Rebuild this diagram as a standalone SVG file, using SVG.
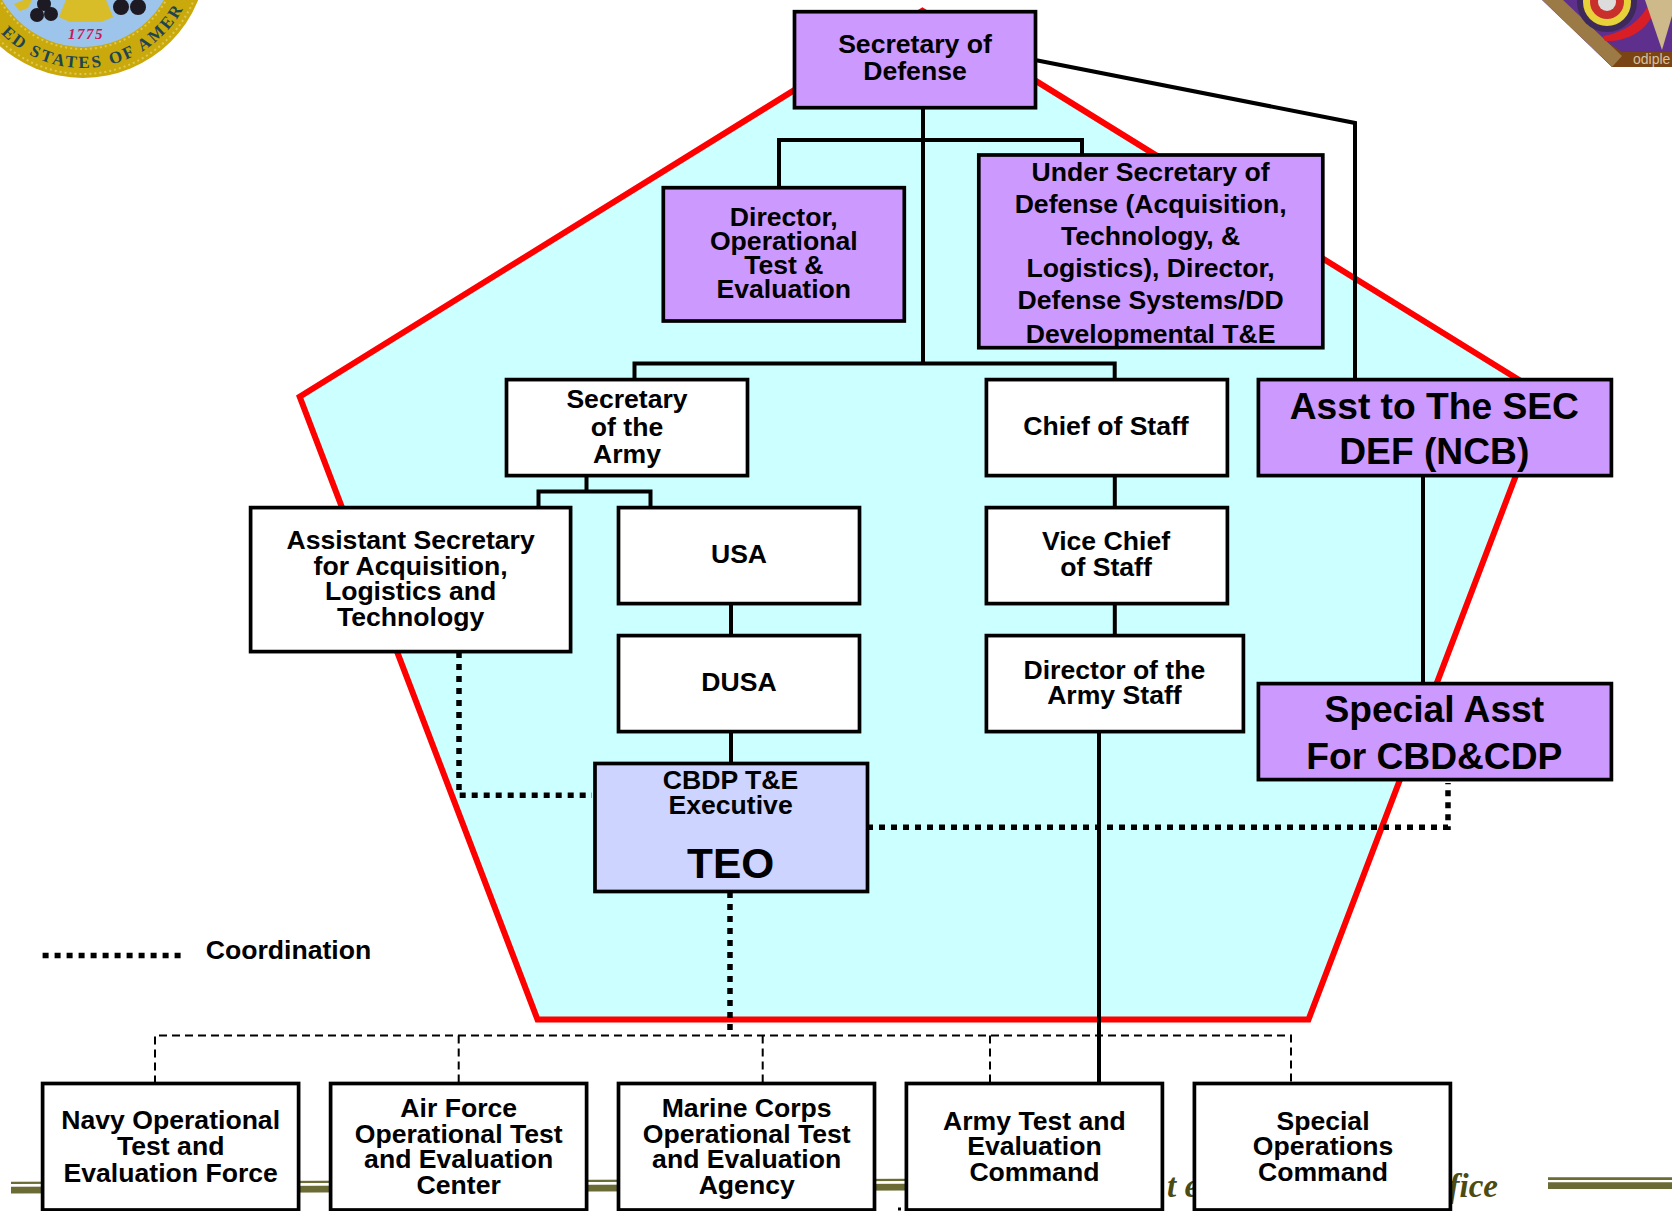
<svg xmlns="http://www.w3.org/2000/svg" width="1672" height="1211" viewBox="0 0 1672 1211">
<style>
text{font-family:"Liberation Sans",Arial,sans-serif;font-weight:bold;font-size:26.6px;text-anchor:middle;fill:#000}
.big{font-size:37.2px}
.teo{font-size:42.4px}
.foot{font-family:"Liberation Serif","Times New Roman",serif;font-style:italic;font-size:33px;fill:#4b4b12}
.box{stroke:#000;stroke-width:3.7}
.purple{fill:#cc99ff}
.white{fill:#fff}
.blue{fill:#ccd4ff}
.solid{fill:none;stroke:#000;stroke-width:4}
.dot{fill:none;stroke:#000;stroke-width:5.5;stroke-dasharray:6 6}
.dash{fill:none;stroke:#000;stroke-width:2;stroke-dasharray:8 5}
.bar{fill:#6b6b35}
</style>
<defs>
<path id="sealArc" d="M-31,-46 A114,114 0 0 0 197,-46"/>
<clipPath id="rightLogo"><polygon points="1542,0 1612,67 1672,67 1672,0"/></clipPath>
</defs>

<g id="seal-logo">
<circle cx="83" cy="-46" r="124" fill="#c9a90c"/>
<circle cx="83" cy="-46" r="120" fill="none" stroke="#e0c850" stroke-width="2" stroke-dasharray="2 3"/>
<circle cx="83" cy="-46" r="95" fill="none" stroke="#e0c850" stroke-width="2" stroke-dasharray="2 3"/>
<circle cx="83" cy="-46" r="93" fill="#9dc4ea"/>
<polygon points="66,0 106,0 113,17 101,22 70,22 59,17" fill="#d8bc28"/>
<path d="M14,4 L24,0 L32,0 L28,8 L20,11Z" fill="#d8bc28"/>
<circle cx="44" cy="4" r="7" fill="#1d1a24"/>
<circle cx="37" cy="15" r="7" fill="#1d1a24"/>
<circle cx="51" cy="14" r="7" fill="#1d1a24"/>
<circle cx="121" cy="7" r="8" fill="#1d1a24"/>
<circle cx="138" cy="7" r="8" fill="#1d1a24"/>
<text x="86" y="39" style="font-family:'Liberation Serif',serif;font-style:italic;font-size:15px;letter-spacing:1.5px;fill:#c4185c">1775</text>
<text style="font-family:'Liberation Serif',serif;font-size:17px;fill:#1d4450;letter-spacing:2.5px"><textPath href="#sealArc" startOffset="54.5%">ED STATES OF AMER</textPath></text>
</g>

<g id="right-logo">
<g clip-path="url(#rightLogo)">
<rect x="1540" y="0" width="132" height="68" fill="#5e2f8c"/>
<polygon points="1612,67 1672,67 1672,52 1622,52 1610,44 1594,50" fill="#7a4415"/>
<polygon points="1542,0 1612,67 1622,56 1563,0" fill="#9c7a45"/>
<path d="M1605,41 C1630,42 1650,28 1655,8 L1650,2 C1640,22 1625,32 1603,36Z" fill="#d91e26"/>
<circle cx="1607" cy="2" r="30" fill="#3e2a5a"/>
<circle cx="1607" cy="2" r="24" fill="#e7d23a"/>
<circle cx="1607" cy="2" r="17" fill="#c9302c"/>
<circle cx="1607" cy="2" r="9" fill="#dcdcdc"/>
<polygon points="1645,0 1662,50 1672,16 1672,0" fill="#cdb98a"/>
</g>
<text x="1633" y="64" style="font-size:14px;font-weight:normal;text-anchor:start;fill:#d8c0a0">odiple</text>
</g>

<g id="footer">
<polygon class="bar" points="11,1181.7 906,1178.7 906,1181 11,1184"/>
<polygon class="bar" points="11,1186.7 906,1183.7 906,1190.5 11,1193.5"/>
<polygon class="bar" points="1548,1177.3 1672,1177.3 1672,1180 1548,1180"/>
<polygon class="bar" points="1548,1182.3 1672,1182.3 1672,1189 1548,1189"/>
<text class="foot" x="1167" y="1197" style="text-anchor:start">t e</text>
<text class="foot" x="1498" y="1197" style="text-anchor:end">fice</text>
<rect x="898" y="1207.5" width="3" height="3" fill="#000"/>
</g>

<polygon id="pentagon" points="922.4,10.7 1546,396.7 1308.5,1019.5 537.5,1019.5 299.7,396.7" fill="#ccffff" stroke="#f00" stroke-width="6"/>

<g id="connectors">
<path class="solid" d="M923,107V363"/>
<path class="solid" d="M779,187V140H1082V155"/>
<path class="solid" d="M634.5,379.6V363.5H1114.7V379.6"/>
<path class="solid" d="M1035,60L1355,123V379.6"/>
<path class="solid" d="M586.5,475.6V491.6"/>
<path class="solid" d="M538.5,507.6V491.6H650.5V507.6"/>
<path class="solid" d="M1114.8,475.6V507.6"/>
<path class="solid" d="M1114.8,603.6V635.6"/>
<path class="solid" d="M731,603.6V635.6"/>
<path class="solid" d="M731,731.6V763.5"/>
<path class="solid" d="M1423,475.6V683.6"/>
<path class="solid" d="M1099,731.6V1083.5"/>
<path class="dot" d="M459,652V795.3H592"/>
<path class="dot" d="M867,827.3H1448V783"/>
<path class="dot" d="M730,892V1030"/>
<path class="dot" d="M42.6,955.5H182"/>
<path class="dash" d="M155,1083.5V1035.5H1291V1083.5"/>
<path class="dash" d="M458.7,1035.5V1083.5"/>
<path class="dash" d="M762.7,1035.5V1083.5"/>
<path class="dash" d="M990,1035.5V1083.5"/>
</g>

<g id="sec-def"><rect class="box purple" x="794.5" y="11.7" width="241" height="96"/>
<text x="915" y="53">Secretary of</text><text x="915" y="79.5">Defense</text></g>

<g id="dir-ote"><rect class="box purple" x="663.3" y="187.7" width="241" height="133.3"/>
<text x="783.8" y="226">Director,</text><text x="783.8" y="250">Operational</text><text x="783.8" y="274">Test &amp;</text><text x="783.8" y="298">Evaluation</text></g>

<g id="usd-atl"><rect class="box purple" x="978.8" y="155" width="344" height="192.7"/>
<text x="1150.6" y="181">Under Secretary of</text><text x="1150.6" y="213">Defense (Acquisition,</text><text x="1150.6" y="245">Technology, &amp;</text><text x="1150.6" y="277">Logistics), Director,</text><text x="1150.6" y="309">Defense Systems/DD</text><text x="1150.6" y="342.5">Developmental T&amp;E</text></g>

<g id="sec-army"><rect class="box white" x="506.5" y="379.6" width="241" height="96"/>
<text x="627" y="407.5">Secretary</text><text x="627" y="436">of the</text><text x="627" y="463">Army</text></g>

<g id="chief-staff"><rect class="box white" x="986.4" y="379.6" width="241" height="96"/>
<text x="1106" y="435">Chief of Staff</text></g>

<g id="asst-sec-def"><rect class="box purple" x="1258.4" y="379.6" width="353" height="96"/>
<text class="big" x="1434.3" y="418.5">Asst to The SEC</text><text class="big" x="1434.3" y="463.5">DEF (NCB)</text></g>

<g id="asa-alt"><rect class="box white" x="250.6" y="507.6" width="320" height="144"/>
<text x="410.6" y="549">Assistant Secretary</text><text x="410.6" y="575">for Acquisition,</text><text x="410.6" y="600">Logistics and</text><text x="410.6" y="625.5">Technology</text></g>

<g id="usa"><rect class="box white" x="618.5" y="507.6" width="241" height="96"/>
<text x="739" y="563">USA</text></g>

<g id="vice-chief"><rect class="box white" x="986.4" y="507.6" width="241" height="96"/>
<text x="1106" y="550">Vice Chief</text><text x="1106" y="575.5">of Staff</text></g>

<g id="dusa"><rect class="box white" x="618.5" y="635.6" width="241" height="96"/>
<text x="739" y="691">DUSA</text></g>

<g id="dir-army-staff"><rect class="box white" x="986.4" y="635.6" width="257" height="96"/>
<text x="1114.4" y="679">Director of the</text><text x="1114.4" y="704">Army Staff</text></g>

<g id="teo"><rect class="box blue" x="595" y="763.5" width="272.5" height="128"/>
<text x="730.6" y="788.5">CBDP T&amp;E</text><text x="730.6" y="813.5">Executive</text><text class="teo" x="730.6" y="877.5">TEO</text></g>

<g id="special-asst"><rect class="box purple" x="1258.4" y="683.6" width="353" height="96"/>
<text class="big" x="1434.3" y="722">Special Asst</text><text class="big" x="1434.3" y="769">For CBD&amp;CDP</text></g>

<g id="legend"><text x="288.5" y="958.5">Coordination</text></g>

<g id="navy"><rect class="box white" x="42.6" y="1083.5" width="256" height="126.5"/>
<text x="170.7" y="1128.5">Navy Operational</text><text x="170.7" y="1154.5">Test and</text><text x="170.7" y="1182">Evaluation Force</text></g>

<g id="air-force"><rect class="box white" x="330.6" y="1083.5" width="256" height="126.5"/>
<text x="458.7" y="1116.7">Air Force</text><text x="458.7" y="1142.7">Operational Test</text><text x="458.7" y="1167.7">and Evaluation</text><text x="458.7" y="1194">Center</text></g>

<g id="marine-corps"><rect class="box white" x="618.5" y="1083.5" width="256" height="126.5"/>
<text x="746.7" y="1116.7">Marine Corps</text><text x="746.7" y="1142.7">Operational Test</text><text x="746.7" y="1167.7">and Evaluation</text><text x="746.7" y="1194">Agency</text></g>

<g id="army-tec"><rect class="box white" x="906.4" y="1083.5" width="256" height="126.5"/>
<text x="1034.4" y="1130.3">Army Test and</text><text x="1034.4" y="1155.3">Evaluation</text><text x="1034.4" y="1181">Command</text></g>

<g id="socom"><rect class="box white" x="1194.4" y="1083.5" width="256" height="126.5"/>
<text x="1323" y="1130.3">Special</text><text x="1323" y="1155.3">Operations</text><text x="1323" y="1181">Command</text></g>
</svg>
